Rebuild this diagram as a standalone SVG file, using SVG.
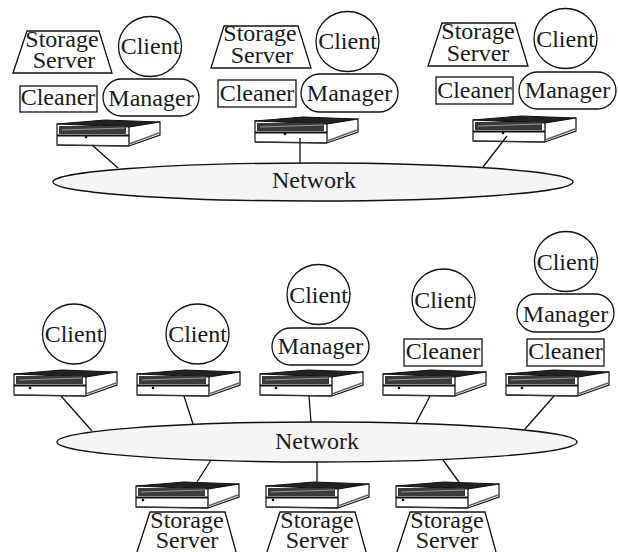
<svg xmlns="http://www.w3.org/2000/svg" width="618" height="552" viewBox="0 0 618 552">
<style>
text{font-family:"Liberation Serif","Times New Roman",serif;font-size:24px;fill:#1a1a1a;text-anchor:middle}
.s{fill:#fff;stroke:#111;stroke-width:1.3}
.c{stroke:#111;stroke-width:1.3;fill:none}
.n{fill:#f5f5f5;stroke:#111;stroke-width:1.4}
.d{fill:#111}
</style>
<defs>
<g id="srv">
<path d="M0 4L48 0L103 2L72 7Z" fill="#222" stroke="#111" stroke-width="1"/>
<path d="M0 4L72 7L103 2V15L72 26L0 25Z" fill="#fff" stroke="#111" stroke-width="1.200"/>
<path d="M2 6H69V14H2Z" fill="#3a3a3a"/>
<path d="M5 10L68 8" stroke="#999" stroke-width="1"/>
<path d="M0 15.500H72" stroke="#111" stroke-width="2"/>
<path d="M72 7V26" stroke="#111" stroke-width="1.300"/>
<path d="M0 25L72 26" stroke="#333" stroke-width="1.600"/>
<path d="M72 24L102 13" stroke="#666" stroke-width="1.500"/>
</g>
</defs>
<g id="top-network"><ellipse class="n" cx="313" cy="182" rx="260" ry="19"/><text x="314" y="188">Network</text></g>
<g id="bottom-network"><ellipse class="n" cx="317" cy="442" rx="260" ry="20"/><text x="317" y="449">Network</text></g>
<g id="server-t1"><use href="#srv" x="57" y="120"/><circle class="d" cx="86" cy="137" r="1.300"/></g>
<g id="server-t2"><use href="#srv" x="255" y="117"/><circle class="d" cx="285" cy="134" r="1.300"/></g>
<g id="server-t3"><use href="#srv" x="473" y="116"/><circle class="d" cx="503" cy="133" r="1.300"/></g>
<g id="server-b1"><use href="#srv" x="14" y="370"/><circle class="d" cx="30" cy="388" r="1.300"/></g>
<g id="server-b2"><use href="#srv" x="137" y="370"/><circle class="d" cx="153" cy="388" r="1.300"/></g>
<g id="server-b3"><use href="#srv" x="260" y="370"/><circle class="d" cx="276" cy="388" r="1.300"/></g>
<g id="server-b4"><use href="#srv" x="383" y="370"/><circle class="d" cx="399" cy="388" r="1.300"/></g>
<g id="server-b5"><use href="#srv" x="506" y="370"/><circle class="d" cx="522" cy="388" r="1.300"/></g>
<g id="server-s1"><use href="#srv" x="136" y="482"/><circle class="d" cx="143" cy="500" r="1.300"/></g>
<g id="server-s2"><use href="#srv" x="266" y="482"/><circle class="d" cx="273" cy="500" r="1.300"/></g>
<g id="server-s3"><use href="#srv" x="396" y="482"/><circle class="d" cx="403" cy="500" r="1.300"/></g>
<g id="connectors">
<path class="c" d="M92 145L118 168M300 138V163M507 136L483 167M61 396L92 431M184 396L193 424M309 396L311 422M430 396L416 423M554 396L525 429M211 460L197 482M317 461V482M443 460L459 482"/>
</g>

<g id="storage-t1"><path class="s" d="M13 73L27 31H99L112 73Z"/><text x="62" y="47">Storage</text><text x="64" y="68">Server</text></g>
<g id="client-t1"><ellipse class="s" cx="150" cy="46.500" rx="31.500" ry="30"/><text x="150" y="54">Client</text></g>
<g id="cleaner-t1"><rect class="s" x="20" y="86" width="77" height="26"/><text x="58" y="105">Cleaner</text></g>
<g id="manager-t1"><rect class="s" x="103" y="79" width="96" height="37" rx="18.500"/><text x="151" y="106">Manager</text></g>

<g id="storage-t2"><path class="s" d="M211 68L224 26H298L311 68Z"/><text x="260" y="41">Storage</text><text x="262" y="63">Server</text></g>
<g id="client-t2"><ellipse class="s" cx="347.500" cy="41.500" rx="31.500" ry="30"/><text x="347.500" y="49">Client</text></g>
<g id="cleaner-t2"><rect class="s" x="218" y="80" width="78" height="27"/><text x="257" y="101">Cleaner</text></g>
<g id="manager-t2"><rect class="s" x="301" y="74" width="97" height="38" rx="19"/><text x="349.500" y="101">Manager</text></g>

<g id="storage-t3"><path class="s" d="M428 66L442 23H515L528 66Z"/><text x="478" y="39">Storage</text><text x="478" y="61">Server</text></g>
<g id="client-t3"><ellipse class="s" cx="565.500" cy="38.500" rx="31.500" ry="30"/><text x="565.500" y="47">Client</text></g>
<g id="cleaner-t3"><rect class="s" x="436" y="77" width="77" height="27"/><text x="474.500" y="98">Cleaner</text></g>
<g id="manager-t3"><rect class="s" x="519" y="72" width="97" height="37" rx="18.500"/><text x="567.500" y="98">Manager</text></g>

<g id="client-b1"><ellipse class="s" cx="74" cy="334" rx="31.500" ry="30"/><text x="74" y="342">Client</text></g>
<g id="client-b2"><ellipse class="s" cx="197.500" cy="334" rx="31.500" ry="30"/><text x="197.500" y="342">Client</text></g>
<g id="client-b3"><ellipse class="s" cx="318.500" cy="294.500" rx="31.500" ry="30"/><text x="318.500" y="303">Client</text></g>
<g id="manager-b3"><rect class="s" x="272" y="328" width="97" height="37" rx="18.500"/><text x="320.500" y="354">Manager</text></g>
<g id="client-b4"><ellipse class="s" cx="443.500" cy="299" rx="31.500" ry="30"/><text x="443.500" y="308">Client</text></g>
<g id="cleaner-b4"><rect class="s" x="404" y="339" width="78" height="27"/><text x="443" y="359">Cleaner</text></g>
<g id="client-b5"><ellipse class="s" cx="566" cy="261.500" rx="31.500" ry="30"/><text x="566" y="270">Client</text></g>
<g id="manager-b5"><rect class="s" x="517" y="294" width="97" height="38" rx="19"/><text x="565.500" y="322">Manager</text></g>
<g id="cleaner-b5"><rect class="s" x="527" y="339" width="77" height="27"/><text x="565.500" y="359">Cleaner</text></g>

<g id="storage-s1"><path class="s" d="M137 552L150 512H225L236 552"/><text x="187" y="528">Storage</text><text x="187" y="548">Server</text></g>
<g id="storage-s2"><path class="s" d="M267 552L280 512H355L366 552"/><text x="317" y="528">Storage</text><text x="317" y="548">Server</text></g>
<g id="storage-s3"><path class="s" d="M397 552L410 512H485L496 552"/><text x="447" y="528">Storage</text><text x="447" y="548">Server</text></g>
</svg>
